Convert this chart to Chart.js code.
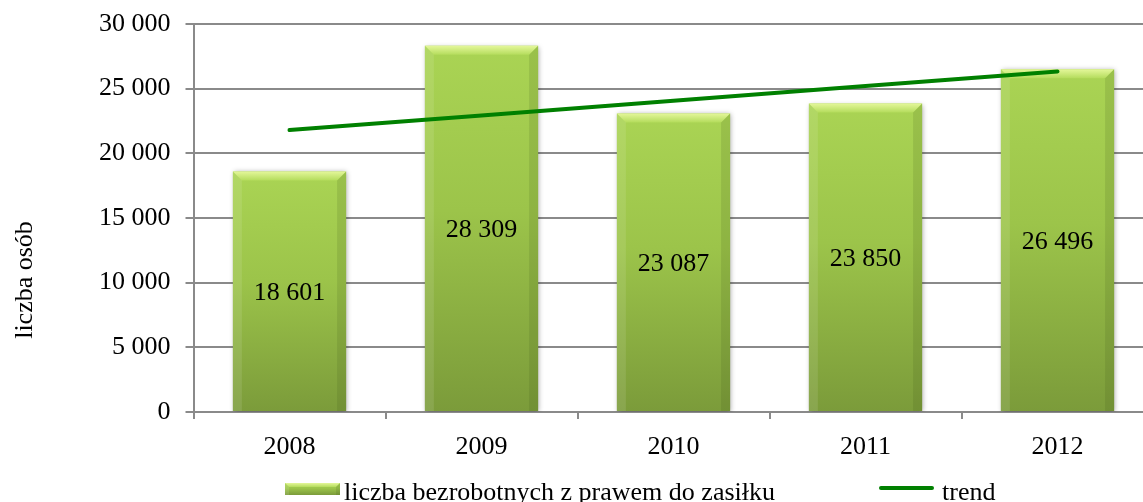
<!DOCTYPE html>
<html>
<head>
<meta charset="utf-8">
<script src="https://cdn.jsdelivr.net/npm/chart.js@4"></script>
<style>
    html, body { margin: 0; padding: 0; background: #fff; }
    #wrap { width: 1143px; height: 502px; overflow: hidden; position: relative; }
    #wykres { display: block; }
</style>
</head>
<body>
<div id="wrap"><canvas id="wykres" width="1160" height="502"></canvas></div>
<script>
// Bezrobotni z prawem do zasiłku, 2008-2012, z linią trendu.
var lata = ['2008', '2009', '2010', '2011', '2012'];
var bezrobotni = [18601, 28309, 23087, 23850, 26496];
var trend = [21800, 22930, 24070, 25200, 26330];
var yTicks = [0, 5000, 10000, 15000, 20000, 25000, 30000];
var nazwaSerii = 'liczba bezrobotnych z prawem do zasiłku';
var nazwaTrendu = 'trend';
var tytulOsiY = 'liczba osób';

var rodzina = '"Liberation Serif", "Times New Roman", serif';
var czcionka = '26px ' + rodzina;
var szary = '#8a8a8a';
var zielonyTrend = '#008000';

// Formatuje liczbę ze spacją co trzy cyfry.
function formatuj(v) {
    return String(v).replace(/\B(?=(\d{3})+(?!\d))/g, ' ');
}

// Gradient słupka od góry do podstawy.
function gradientSlupka(ctx, top, base) {
    var g = ctx.createLinearGradient(0, top, 0, base);
    g.addColorStop(0, '#aad454');
    g.addColorStop(0.45, '#9cc44a');
    g.addColorStop(1, '#7b9b3a');
    return g;
}

// Rysuje skosy (bevel) na słupku.
function rysujBevel(ctx, left, right, top, base, b) {
    var g = ctx.createLinearGradient(0, top, 0, top + b);
    g.addColorStop(0, '#e4f79a');
    g.addColorStop(1, '#b4dc5c');
    ctx.fillStyle = g;
    ctx.beginPath();
    ctx.moveTo(left, top);
    ctx.lineTo(right, top);
    ctx.lineTo(right - b, top + b);
    ctx.lineTo(left + b, top + b);
    ctx.closePath();
    ctx.fill();

    ctx.fillStyle = 'rgba(255,255,255,0.10)';
    ctx.beginPath();
    ctx.moveTo(left, top);
    ctx.lineTo(left + b, top + b);
    ctx.lineTo(left + b, base);
    ctx.lineTo(left, base);
    ctx.closePath();
    ctx.fill();

    ctx.fillStyle = 'rgba(60,80,20,0.14)';
    ctx.beginPath();
    ctx.moveTo(right, top);
    ctx.lineTo(right - b, top + b);
    ctx.lineTo(right - b, base);
    ctx.lineTo(right, base);
    ctx.closePath();
    ctx.fill();
}

var pluginSlupki = {
    id: 'slupki',
    beforeDatasetDraw: function (chart, args) {
        if (args.index === 0) {
            var ctx = chart.ctx;
            ctx.save();
            ctx.shadowColor = 'rgba(0,0,0,0.35)';
            ctx.shadowBlur = 5;
            ctx.shadowOffsetX = 1;
            ctx.shadowOffsetY = 1;
        }
    },
    afterDatasetDraw: function (chart, args) {
        if (args.index !== 0) {
            return;
        }
        var ctx = chart.ctx;
        ctx.restore();
        var meta = chart.getDatasetMeta(0);
        ctx.save();
        meta.data.forEach(function (bar, i) {
            var left = bar.x - bar.width / 2;
            var right = bar.x + bar.width / 2;
            rysujBevel(ctx, left, right, bar.y, bar.base, 9);
            ctx.fillStyle = '#000';
            ctx.font = czcionka;
            ctx.textAlign = 'center';
            ctx.textBaseline = 'middle';
            ctx.fillText(formatuj(bezrobotni[i]), bar.x, (bar.y + bar.base) / 2 + 2);
        });
        ctx.restore();
    },
    afterDraw: function (chart) {
        var ctx = chart.ctx;
        ctx.save();
        // tytuł osi Y
        ctx.fillStyle = '#000';
        ctx.font = czcionka;
        ctx.translate(32, 280);
        ctx.rotate(-Math.PI / 2);
        ctx.textAlign = 'center';
        ctx.textBaseline = 'alphabetic';
        ctx.fillText(tytulOsiY, 0, 0);
        ctx.restore();

        // legenda
        ctx.save();
        ctx.fillStyle = gradientSlupka(ctx, 483, 495);
        ctx.fillRect(285, 483, 55, 12);
        rysujBevel(ctx, 285, 340, 483, 495, 4);
        ctx.fillStyle = '#000';
        ctx.font = czcionka;
        ctx.textAlign = 'left';
        ctx.textBaseline = 'alphabetic';
        ctx.fillText(nazwaSerii, 344, 500);

        ctx.strokeStyle = zielonyTrend;
        ctx.lineWidth = 4;
        ctx.lineCap = 'round';
        ctx.beginPath();
        ctx.moveTo(881, 488);
        ctx.lineTo(932, 488);
        ctx.stroke();
        ctx.fillText(nazwaTrendu, 942, 500);
        ctx.restore();
    }
};

var context = document.getElementById('wykres').getContext('2d');

var chart = new Chart(context, {
    type: 'bar',
    data: {
        labels: lata,
        datasets: [{
            type: 'bar',
            label: nazwaSerii,
            data: bezrobotni,
            order: 1,
            barPercentage: 0.59,
            categoryPercentage: 1,
            backgroundColor: function (c) {
                var ch = c.chart;
                if (!ch.chartArea || !ch.scales.y) {
                    return '#9cc44a';
                }
                var y = ch.scales.y;
                return gradientSlupka(ch.ctx, y.getPixelForValue(c.raw), y.getPixelForValue(0));
            },
            borderWidth: 0
        }, {
            type: 'line',
            label: nazwaTrendu,
            data: trend,
            order: 0,
            borderColor: zielonyTrend,
            borderWidth: 4,
            borderCapStyle: 'round',
            pointRadius: 0,
            fill: false,
            tension: 0
        }]
    },
    options: {
        responsive: false,
        animation: false,
        layout: {
            padding: { left: 0, right: 6.5, top: 24, bottom: 0 }
        },
        plugins: {
            legend: { display: false },
            tooltip: { enabled: false }
        },
        scales: {
            x: {
                grid: {
                    offset: true,
                    drawOnChartArea: false,
                    drawTicks: true,
                    tickLength: 7,
                    color: szary,
                    lineWidth: 2
                },
                border: { color: szary, width: 2 },
                ticks: {
                    color: '#000',
                    font: { family: rodzina, size: 26 },
                    padding: 13,
                    maxRotation: 0
                },
                afterFit: function (scale) {
                    scale.height = 90;
                }
            },
            y: {
                min: 0,
                max: 30000,
                afterBuildTicks: function (scale) {
                    scale.ticks = yTicks.map(function (v) { return { value: v }; });
                },
                grid: {
                    color: szary,
                    lineWidth: 2,
                    tickLength: 8
                },
                border: { color: szary, width: 2 },
                ticks: {
                    color: '#000',
                    font: { family: rodzina, size: 26, lineHeight: 0.5 },
                    padding: 15,
                    callback: function (v) { return formatuj(v); }
                },
                afterFit: function (scale) {
                    scale.width = 193.5;
                }
            }
        }
    },
    plugins: [pluginSlupki]
});
</script>
</body>
</html>
